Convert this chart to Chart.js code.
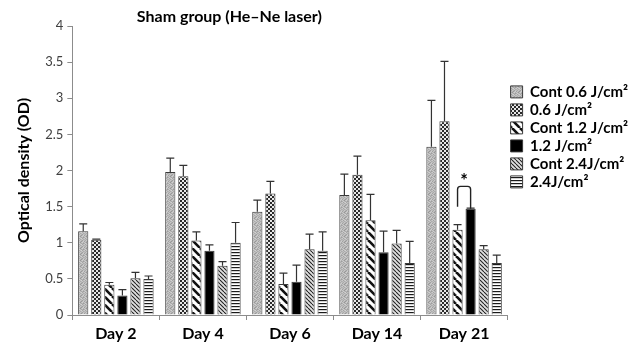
<!DOCTYPE html>
<html>
<head>
<meta charset="utf-8">
<script src="https://cdn.jsdelivr.net/npm/chart.js@4/dist/chart.umd.min.js"></script>
<style>
  html, body { margin: 0; padding: 0; background: #fff; }
  #wrap { width: 638px; height: 348px; }
</style>
</head>
<body>
<div id="wrap"><canvas id="c" width="638" height="348"></canvas></div>
<script>
// Optical density per time point, mean and upper error (SD)
const days = ['Day 2', 'Day 4', 'Day 6', 'Day 14', 'Day 21'];
const seriesNames = ['Cont 0.6 J/cm²', '0.6 J/cm²', 'Cont 1.2 J/cm²', '1.2 J/cm²', 'Cont 2.4J/cm²', '2.4J/cm²'];

const cont06    = [1.16, 1.98, 1.43, 1.66, 2.33];
const cont06Err = [0.10, 0.19, 0.16, 0.29, 0.64];
const dose06    = [1.04, 1.92, 1.68, 1.94, 2.68];
const dose06Err = [0.01, 0.15, 0.17, 0.26, 0.83];
const cont12    = [0.42, 1.03, 0.43, 1.31, 1.18];
const cont12Err = [0.03, 0.12, 0.15, 0.36, 0.07];
const dose12    = [0.27, 0.89, 0.46, 0.87, 1.47];
const dose12Err = [0.08, 0.08, 0.23, 0.29, 0.01];
const cont24    = [0.51, 0.68, 0.91, 0.99, 0.91];
const cont24Err = [0.08, 0.06, 0.21, 0.18, 0.05];
const dose24    = [0.50, 1.00, 0.89, 0.72, 0.72];
const dose24Err = [0.04, 0.28, 0.26, 0.30, 0.11];

const yTicks = [0, 0.5, 1, 1.5, 2, 2.5, 3, 3.5, 4];

// Significant difference marker: Day 21, Cont 1.2 vs 1.2 J/cm²
const sigDay = 'Day 21';
const sigFrom = 2;        // dataset index, left leg
const sigTo = 3;          // dataset index, right leg
const sigLeftFoot = 1.50;
const sigTop = 1.78;
const sigLabel = '*';

// ---- fill patterns -------------------------------------------------------
function tile(w, h, paint) {
  const cv = document.createElement('canvas');
  cv.width = w; cv.height = h;
  const g = cv.getContext('2d');
  paint(g, w, h);
  return g.createPattern(cv, 'repeat');
}

// mottled light grey
const mottleShades = [
  [188, 170, 200, 182, 160, 194],
  [160, 196, 178, 152, 186, 206],
  [198, 180, 150, 192, 208, 176],
  [174, 206, 188, 168, 180, 158],
  [202, 162, 196, 210, 166, 190],
  [180, 192, 170, 186, 200, 172]
];
const patMottle = tile(6, 6, (g) => {
  mottleShades.forEach((row, y) => row.forEach((v, x) => {
    g.fillStyle = `rgb(${v},${v},${v})`;
    g.fillRect(x, y, 1, 1);
  }));
});

// small checker dots
const patChecker = tile(4, 4, (g) => {
  g.fillStyle = '#e8e8e8'; g.fillRect(0, 0, 4, 4);
  g.fillStyle = '#2a2a2a';
  g.fillRect(0, 0, 2, 2); g.fillRect(2, 2, 2, 2);
});

// wide diagonal stripes (\)
const patWide = tile(8, 8, (g) => {
  g.fillStyle = '#fff'; g.fillRect(0, 0, 8, 8);
  g.strokeStyle = '#111'; g.lineWidth = 2.6;
  for (let k = -8; k <= 16; k += 8) {
    g.beginPath(); g.moveTo(k, 0); g.lineTo(k + 8, 8); g.stroke();
  }
});

// fine diagonal hatch (\)
const patFine = tile(4, 4, (g) => {
  g.fillStyle = '#e0e0e0'; g.fillRect(0, 0, 4, 4);
  g.strokeStyle = '#222'; g.lineWidth = 1.1;
  for (let k = -4; k <= 8; k += 4) {
    g.beginPath(); g.moveTo(k, 0); g.lineTo(k + 4, 4); g.stroke();
  }
});

// horizontal stripes
const patHoriz = tile(4, 3, (g) => {
  g.fillStyle = '#fff'; g.fillRect(0, 0, 4, 3);
  g.fillStyle = '#1a1a1a'; g.fillRect(0, 0, 4, 1.2);
});

const fills = [patMottle, patChecker, patWide, '#000', patFine, patHoriz];
const values = [cont06, dose06, cont12, dose12, cont24, dose24];
const errors = [cont06Err, dose06Err, cont12Err, dose12Err, cont24Err, dose24Err];

const datasets = seriesNames.map((name, i) => ({
  label: name,
  data: values[i],
  errorPlus: errors[i],
  backgroundColor: fills[i],
  borderColor: '#3a3a3a',
  borderWidth: 1,
  categoryPercentage: 0.9,
  barPercentage: 0.78
}));

// ---- plugins -------------------------------------------------------------
const errorBars = {
  id: 'errorBars',
  afterDatasetsDraw(chart) {
    const ctx = chart.ctx;
    const y = chart.scales.y;
    ctx.save();
    ctx.strokeStyle = '#333';
    ctx.lineWidth = 1.2;
    chart.data.datasets.forEach((ds, di) => {
      const meta = chart.getDatasetMeta(di);
      meta.data.forEach((bar, j) => {
        const v = ds.data[j];
        const e = ds.errorPlus[j];
        const yTop = y.getPixelForValue(v + e);
        const yBase = y.getPixelForValue(v);
        const cap = 4;
        ctx.beginPath();
        ctx.moveTo(bar.x, yBase); ctx.lineTo(bar.x, yTop);
        ctx.moveTo(bar.x - cap, yTop); ctx.lineTo(bar.x + cap, yTop);
        ctx.stroke();
      });
    });
    ctx.restore();
  }
};

const significance = {
  id: 'significance',
  afterDatasetsDraw(chart) {
    const ctx = chart.ctx;
    const y = chart.scales.y;
    const j = days.indexOf(sigDay);
    const a = chart.getDatasetMeta(sigFrom).data[j];
    const b = chart.getDatasetMeta(sigTo).data[j];
    const rightFoot = chart.data.datasets[sigTo].data[j];
    const x1 = a.x, x2 = b.x;
    const yL = y.getPixelForValue(sigLeftFoot);
    const yR = y.getPixelForValue(rightFoot);
    const yT = y.getPixelForValue(sigTop);
    const r = 3;
    ctx.save();
    ctx.strokeStyle = '#222';
    ctx.lineWidth = 1.4;
    ctx.beginPath();
    ctx.moveTo(x1, yL);
    ctx.lineTo(x1, yT + r);
    ctx.quadraticCurveTo(x1, yT, x1 + r, yT);
    ctx.lineTo(x2 - r, yT);
    ctx.quadraticCurveTo(x2, yT, x2, yT + r);
    ctx.lineTo(x2, yR);
    ctx.stroke();
    ctx.fillStyle = '#000';
    ctx.font = 'bold 18px Lato';
    ctx.textAlign = 'center';
    ctx.textBaseline = 'middle';
    ctx.fillText(sigLabel, (x1 + x2) / 2, yT - 5);
    ctx.restore();
  }
};

const chartHeading = {
  id: 'chartHeading',
  afterDraw(chart) {
    const ctx = chart.ctx;
    const area = chart.chartArea;
    ctx.save();
    ctx.fillStyle = '#000';
    ctx.font = 'bold 16px Lato';
    ctx.textAlign = 'center';
    ctx.textBaseline = 'middle';
    ctx.fillText('Sham group (He\u2013Ne laser)', area.left + 157, area.top - 9);
    ctx.restore();
  }
};

// ---- chart ---------------------------------------------------------------
new Chart(document.getElementById('c'), {
  type: 'bar',
  data: { labels: days, datasets },
  plugins: [errorBars, significance, chartHeading],
  options: {
    responsive: false,
    animation: false,
    devicePixelRatio: 1,
    layout: { padding: { left: 14, top: 26, right: 0, bottom: 0 } },
    plugins: {
      title: { display: false },
      tooltip: { enabled: false },
      legend: {
        position: 'right',
        align: 'start',
        maxWidth: 134,
        title: { display: true, text: ' ', font: { size: 2 }, padding: { top: 53, bottom: 0 } },
        labels: {
          color: '#000',
          font: { family: 'Lato', size: 15, weight: 'bold' },
          boxWidth: 12,
          boxHeight: 12,
          padding: 3
        }
      }
    },
    scales: {
      x: {
        offset: true,
        grid: { display: true, drawOnChartArea: false, offset: true, color: '#8c8c8c', tickLength: 5 },
        border: { color: '#8c8c8c' },
        ticks: { color: '#000', font: { family: 'Lato', size: 16, weight: 'bold', lineHeight: 1.0 }, padding: 6 }
      },
      y: {
        min: 0,
        max: 4,
        afterBuildTicks(scale) { scale.ticks = yTicks.map(v => ({ value: v })); },
        grid: { display: true, drawOnChartArea: false, color: '#8c8c8c', tickLength: 5 },
        border: { color: '#8c8c8c' },
        ticks: { color: '#404040', font: { family: 'Lato', size: 13 }, padding: 4,
                 callback: (v) => String(v) },
        title: { display: true, text: 'Optical density (OD)', color: '#000',
                 font: { family: 'Lato', size: 16, weight: 'bold' }, padding: { top: 0, bottom: 8 } }
      }
    }
  }
});
</script>
</body>
</html>
